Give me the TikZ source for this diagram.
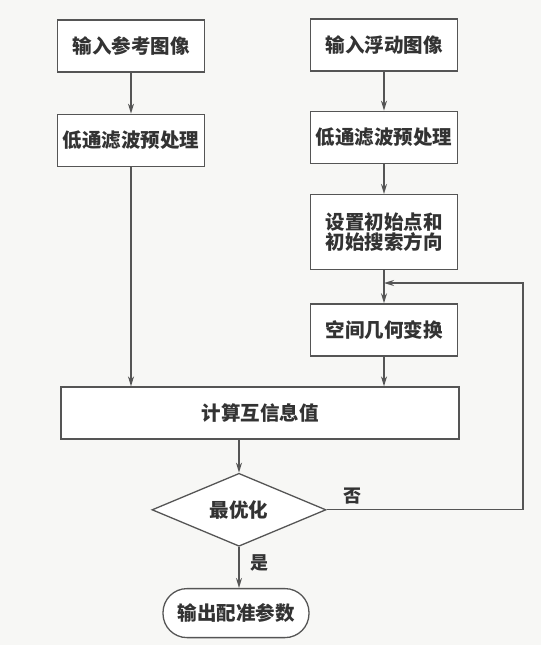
\documentclass[tikz,border=0pt]{standalone}
\usepackage{fontspec}
\newfontfamily\cjk{Noto Sans CJK SC}
\usepackage{xcolor}
\definecolor{flowLine}{HTML}{555555}
\definecolor{flowText}{HTML}{333333}
\definecolor{paperBg}{HTML}{F7F7F5}
\usetikzlibrary{shapes.geometric,arrows.meta,positioning}
\tikzset{
    procbox/.style={
        draw=flowLine,
        fill=white,
        rectangle,
        align=center,
        minimum height=52pt,
        minimum width=147pt,
        line width=1.3pt,
        inner sep=2pt,
        text=flowText,
        font=\cjk\bfseries\fontsize{19.5pt}{20pt}\selectfont
    },
    decision/.style={
        procbox,
        diamond,
        aspect=2.4,
        minimum width=174pt,
        minimum height=73pt,
        inner sep=0pt
    },
    terminal/.style={
        procbox,
        rounded corners=24pt,
        minimum height=49pt,
        minimum width=146pt
    },
    arrow/.style={
        -{Stealth[length=10pt,width=6pt]},
        line width=1.3pt,
        color=flowLine
    },
    label/.style={
        text=flowText,
        inner sep=1pt,
        font=\cjk\bfseries\fontsize{18pt}{20pt}\selectfont
    }
}
\begin{document}
\begin{tikzpicture}[x=1pt,y=-1pt]
    \fill[paperBg] (0,0) rectangle (541,645);
    \useasboundingbox (0,0) rectangle (541,645);

    % left column
    \node[procbox] (refin) at (131,46) {输入参考图像};
    \node[procbox, below=41pt of refin] (reffilt) {低通滤波预处理};

    % right column
    \node[procbox] (floatin) at (384,45) {输入浮动图像};
    \node[procbox, below=39pt of floatin] (floatfilt) {低通滤波预处理};
    \node[procbox, below=30pt of floatfilt, minimum height=75pt] (init) {设置初始点和\\初始搜索方向};
    \node[procbox, below=33pt of init] (transform) {空间几何变换};

    % merge and decision
    \node[procbox, minimum width=398pt] (mutual) at (260,413) {计算互信息值};
    \node[decision, below=33pt of mutual, xshift=-21pt] (optim) {最优化};
    \node[terminal, below=41pt of optim, xshift=-3pt] (output) {输出配准参数};
    \coordinate (loop) at (523,283);

    \draw[arrow] (refin) -- (reffilt);
    \draw[arrow] (floatin) -- (floatfilt);
    \draw[arrow] (floatfilt) -- (init);
    \draw[arrow] (init) -- (transform);
    \draw[arrow] (reffilt.south) -- (reffilt.south |- mutual.north);
    \draw[arrow] (transform.south) -- (transform.south |- mutual.north);
    \draw[arrow] (optim.north |- mutual.south) -- (optim.north);
    \draw[arrow] (optim.south) -- node[label, right=10pt, pos=0.38] {是} (optim.south |- output.north);
    \draw[arrow] (optim.east) -- node[label, above=4pt, pos=0.13] {否} (optim.east -| loop)
        -- (loop) -- (loop -| init.south);
\end{tikzpicture}
\end{document}
